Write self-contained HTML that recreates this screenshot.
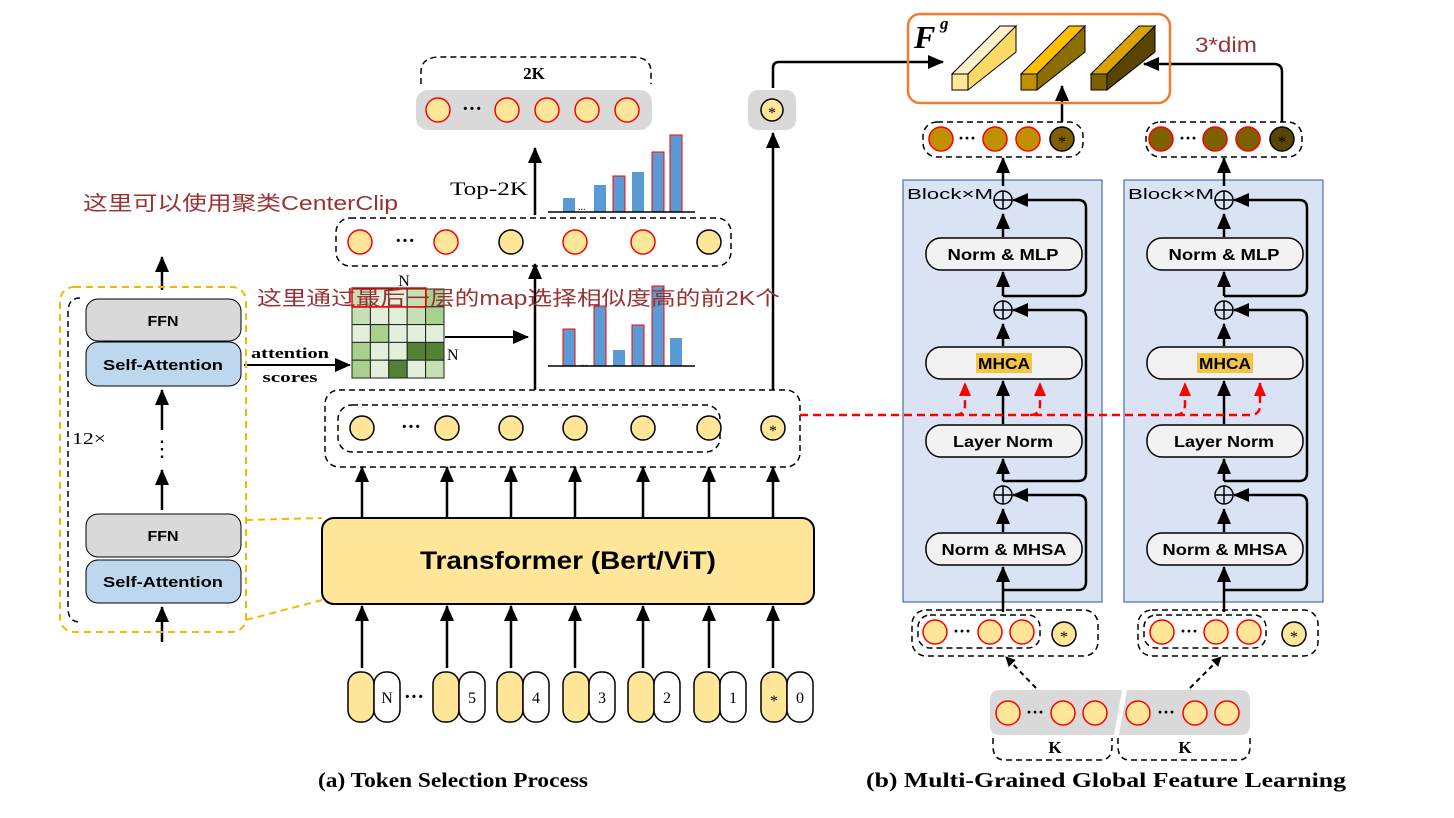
<!DOCTYPE html>
<html><head><meta charset="utf-8"><style>
body{margin:0;background:#fff;}
svg{display:block;}
.s{font-family:"Liberation Sans","DejaVu Sans",sans-serif;}
.r{font-family:"Liberation Serif",serif;}
.cn{font-family:"Liberation Sans","Noto Sans CJK SC",sans-serif;fill:#993333;font-size:20px;}
</style></head><body>
<svg width="1454" height="818" viewBox="0 0 1454 818" xmlns="http://www.w3.org/2000/svg">
<defs>
<marker id="a" markerWidth="10" markerHeight="10" refX="9" refY="5" orient="auto" markerUnits="userSpaceOnUse" viewBox="0 0 10 10"><path d="M0,0 L10,5 L0,10z" fill="#000"/></marker>
<marker id="ab" markerWidth="16" markerHeight="16" refX="15" refY="8" orient="auto" markerUnits="userSpaceOnUse" viewBox="0 0 16 16"><path d="M0,1 L16,8 L0,15z" fill="#000"/></marker>
<marker id="ar" markerWidth="14" markerHeight="14" refX="13" refY="7" orient="auto" markerUnits="userSpaceOnUse" viewBox="0 0 14 14"><path d="M0,1 L14,7 L0,13z" fill="#f00"/></marker>
</defs>
<g stroke="#000" stroke-width="2.5" fill="none" marker-end="url(#ab)">
<path d="M162 290 V257"/><path d="M162 430 V390"/><path d="M162 510 V470"/><path d="M162 642 V607"/>
<path d="M244 365 H350" stroke-width="2"/>
<path d="M445 337 H528" stroke-width="2"/>
<path d="M535 390 V264"/><path d="M535 215 V148"/>
<path d="M773 390 V133"/>
<path d="M773 88 V68 Q773 62 779 62 H943"/>
</g>
<rect x="60" y="287" width="186" height="345" rx="14" fill="none" stroke="#f5b800" stroke-width="2" stroke-dasharray="7,5"/>
<path d="M80 298 Q68 298 68 312 V608 Q68 622 80 622" fill="none" stroke="#000" stroke-width="1.5" stroke-dasharray="6,4"/>
<path d="M246 520 L322 518 M246 620 L322 600" stroke="#f5b800" stroke-width="2" stroke-dasharray="7,5"/>
<g class="s" font-weight="bold" font-size="15" text-anchor="middle">
<rect x="86" y="299" width="155" height="42" rx="12" fill="#d9d9d9" stroke="#000"/><text x="163" y="326" textLength="31" lengthAdjust="spacingAndGlyphs">FFN</text>
<rect x="86" y="342" width="155" height="44" rx="12" fill="#bdd7ee" stroke="#000"/><text x="163" y="370" textLength="120" lengthAdjust="spacingAndGlyphs">Self-Attention</text>
<rect x="86" y="514" width="155" height="43" rx="12" fill="#d9d9d9" stroke="#000"/><text x="163" y="541" textLength="31" lengthAdjust="spacingAndGlyphs">FFN</text>
<rect x="86" y="560" width="155" height="43" rx="12" fill="#bdd7ee" stroke="#000"/><text x="163" y="587" textLength="120" lengthAdjust="spacingAndGlyphs">Self-Attention</text>
</g>
<text x="162" y="456" font-size="22" text-anchor="middle" class="r">⋮</text>
<text x="72" y="444" font-size="17" class="r" textLength="34" lengthAdjust="spacingAndGlyphs">12×</text>
<text x="290" y="358" font-size="15" font-weight="bold" class="r" text-anchor="middle" textLength="78" lengthAdjust="spacingAndGlyphs">attention</text>
<text x="290" y="382" font-size="15" font-weight="bold" class="r" text-anchor="middle" textLength="55" lengthAdjust="spacingAndGlyphs">scores</text>
<g stroke="#222" stroke-width="1">
<rect x="352" y="289" width="18.4" height="17.8" fill="#c5e0b4"/><rect x="370.4" y="289" width="18.4" height="17.8" fill="#e2efda"/><rect x="388.8" y="289" width="18.4" height="17.8" fill="#e2efda"/><rect x="407.2" y="289" width="18.4" height="17.8" fill="#c5e0b4"/><rect x="425.6" y="289" width="18.4" height="17.8" fill="#a9d18e"/>
<rect x="352" y="306.8" width="18.4" height="17.8" fill="#c5e0b4"/><rect x="370.4" y="306.8" width="18.4" height="17.8" fill="#e2efda"/><rect x="388.8" y="306.8" width="18.4" height="17.8" fill="#e2efda"/><rect x="407.2" y="306.8" width="18.4" height="17.8" fill="#c5e0b4"/><rect x="425.6" y="306.8" width="18.4" height="17.8" fill="#a9d18e"/>
<rect x="352" y="324.6" width="18.4" height="17.8" fill="#e2efda"/><rect x="370.4" y="324.6" width="18.4" height="17.8" fill="#a9d18e"/><rect x="388.8" y="324.6" width="18.4" height="17.8" fill="#e2efda"/><rect x="407.2" y="324.6" width="18.4" height="17.8" fill="#e2efda"/><rect x="425.6" y="324.6" width="18.4" height="17.8" fill="#e2efda"/>
<rect x="352" y="342.4" width="18.4" height="17.8" fill="#a9d18e"/><rect x="370.4" y="342.4" width="18.4" height="17.8" fill="#e2efda"/><rect x="388.8" y="342.4" width="18.4" height="17.8" fill="#e2efda"/><rect x="407.2" y="342.4" width="18.4" height="17.8" fill="#548235"/><rect x="425.6" y="342.4" width="18.4" height="17.8" fill="#548235"/>
<rect x="352" y="360.2" width="18.4" height="17.8" fill="#a9d18e"/><rect x="370.4" y="360.2" width="18.4" height="17.8" fill="#e2efda"/><rect x="388.8" y="360.2" width="18.4" height="17.8" fill="#548235"/><rect x="407.2" y="360.2" width="18.4" height="17.8" fill="#e2efda"/><rect x="425.6" y="360.2" width="18.4" height="17.8" fill="#c5e0b4"/>
</g>
<text x="404" y="286" font-size="16" class="r" text-anchor="middle">N</text>
<text x="447" y="360" font-size="16" class="r">N</text>
<g fill="#5b9bd5">
<rect x="563" y="329" width="12" height="37" stroke="#f00"/><rect x="594" y="306" width="12" height="60" stroke="#f00"/><rect x="613" y="350" width="12" height="16"/><rect x="632" y="325" width="12" height="41" stroke="#f00"/><rect x="652" y="286" width="12" height="80" stroke="#f00"/><rect x="670" y="338" width="12" height="28"/>
<rect x="563" y="198" width="12" height="14"/><rect x="594" y="185" width="12" height="27"/><rect x="613" y="176" width="12" height="36" stroke="#f00"/><rect x="632" y="172" width="12" height="40"/><rect x="652" y="152" width="12" height="60" stroke="#f00"/><rect x="670" y="135" width="12" height="77" stroke="#f00"/>
</g>
<path d="M548 366 H695 M548 212 H695" stroke="#000" stroke-width="1.5"/>
<text x="580" y="366" font-size="10">...</text><text x="578" y="210" font-size="10">...</text>
<text x="450" y="195" font-size="19" class="r" textLength="78" lengthAdjust="spacingAndGlyphs">Top-2K</text>
<rect x="336" y="218" width="395" height="48" rx="14" fill="none" stroke="#000" stroke-width="1.5" stroke-dasharray="6,4"/>
<g fill="#ffe699" stroke-width="1.5">
<circle cx="360" cy="242" r="12" stroke="#f00"/><circle cx="446" cy="242" r="12" stroke="#f00"/><circle cx="511" cy="242" r="12" stroke="#000"/><circle cx="575" cy="242" r="12" stroke="#f00"/><circle cx="643" cy="242" r="12" stroke="#f00"/><circle cx="709" cy="242" r="12" stroke="#000"/>
</g>
<text x="405" y="247" font-size="20" font-weight="bold" text-anchor="middle">···</text>
<path d="M421 84 V72 Q421 57 440 57 H632 Q651 57 651 72 V84" fill="none" stroke="#000" stroke-width="1.5" stroke-dasharray="6,4"/>
<text x="534" y="79" font-size="17" font-weight="bold" class="r" text-anchor="middle">2K</text>
<rect x="416" y="90" width="236" height="40" rx="12" fill="#d9d9d9"/>
<g fill="#ffe699" stroke="#f00" stroke-width="1.5">
<circle cx="438" cy="110" r="12"/><circle cx="507" cy="110" r="12"/><circle cx="547" cy="110" r="12"/><circle cx="587" cy="110" r="12"/><circle cx="627" cy="110" r="12"/></g>
<text x="472" y="115" font-size="20" font-weight="bold" text-anchor="middle">···</text>
<rect x="748" y="90" width="48" height="40" rx="10" fill="#d9d9d9"/>
<circle cx="772" cy="110" r="11" fill="#ffe699" stroke="#000" stroke-width="1.5"/><text x="772" y="118" font-size="16" text-anchor="middle">*</text>
<rect x="325" y="390" width="475" height="77" rx="14" fill="none" stroke="#000" stroke-width="1.5" stroke-dasharray="6,4"/>
<rect x="338" y="405" width="382" height="47" rx="14" fill="none" stroke="#000" stroke-width="1.5" stroke-dasharray="6,4"/>
<g fill="#ffe699" stroke="#000" stroke-width="1.5">
<circle cx="362" cy="428" r="12"/><circle cx="447" cy="428" r="12"/><circle cx="511" cy="428" r="12"/><circle cx="575" cy="428" r="12"/><circle cx="643" cy="428" r="12"/><circle cx="709" cy="428" r="12"/><circle cx="773" cy="428" r="12"/></g>
<text x="411" y="433" font-size="20" font-weight="bold" text-anchor="middle">···</text>
<text x="773" y="436" font-size="16" text-anchor="middle">*</text>
<g stroke="#000" stroke-width="2.5" marker-end="url(#ab)">
<path d="M362 517 V467"/><path d="M447 517 V467"/><path d="M511 517 V467"/><path d="M575 517 V467"/><path d="M643 517 V467"/><path d="M709 517 V467"/><path d="M773 517 V467"/>
<path d="M362 668 V606"/><path d="M447 668 V606"/><path d="M511 668 V606"/><path d="M575 668 V606"/><path d="M643 668 V606"/><path d="M709 668 V606"/><path d="M773 668 V606"/>
</g>
<rect x="322" y="518" width="492" height="86" rx="12" fill="#ffe699" stroke="#000" stroke-width="2"/>
<text x="568" y="569" class="s" font-size="25" font-weight="bold" text-anchor="middle" textLength="296" lengthAdjust="spacingAndGlyphs">Transformer (Bert/ViT)</text>
<g stroke="#000" stroke-width="1.5">
<rect x="348" y="672" width="26" height="50" rx="12" fill="#ffe699"/><rect x="374" y="672" width="26" height="50" rx="12" fill="#fff"/>
<rect x="433" y="672" width="26" height="50" rx="12" fill="#ffe699"/><rect x="459" y="672" width="26" height="50" rx="12" fill="#fff"/>
<rect x="497" y="672" width="26" height="50" rx="12" fill="#ffe699"/><rect x="523" y="672" width="26" height="50" rx="12" fill="#fff"/>
<rect x="563" y="672" width="26" height="50" rx="12" fill="#ffe699"/><rect x="589" y="672" width="26" height="50" rx="12" fill="#fff"/>
<rect x="628" y="672" width="26" height="50" rx="12" fill="#ffe699"/><rect x="654" y="672" width="26" height="50" rx="12" fill="#fff"/>
<rect x="694" y="672" width="26" height="50" rx="12" fill="#ffe699"/><rect x="720" y="672" width="26" height="50" rx="12" fill="#fff"/>
<rect x="761" y="672" width="26" height="50" rx="12" fill="#ffe699"/><rect x="787" y="672" width="26" height="50" rx="12" fill="#fff"/>
</g>
<g class="r" font-size="16" text-anchor="middle">
<text x="387" y="703">N</text><text x="472" y="703">5</text><text x="536" y="703">4</text><text x="602" y="703">3</text><text x="667" y="703">2</text><text x="733" y="703">1</text><text x="800" y="703">0</text><text x="774" y="706">*</text></g>
<text x="414" y="703" font-size="20" font-weight="bold" text-anchor="middle">···</text>
<text x="453" y="787" class="r" font-size="21" font-weight="bold" text-anchor="middle" textLength="270" lengthAdjust="spacingAndGlyphs">(a) Token Selection Process</text>
<text x="1106" y="787" class="r" font-size="21" font-weight="bold" text-anchor="middle" textLength="480" lengthAdjust="spacingAndGlyphs">(b) Multi-Grained Global Feature Learning</text>
<text x="83" y="210" class="cn" textLength="315" lengthAdjust="spacingAndGlyphs">这里可以使用聚类CenterClip</text>
<rect x="352" y="288" width="74" height="19" fill="none" stroke="#f00" stroke-width="1.5"/>
<text x="257" y="305" class="cn" textLength="523" lengthAdjust="spacingAndGlyphs">这里通过最后一层的map选择相似度高的前2K个</text>

<g id="blk">
<rect x="903" y="180" width="199" height="422" fill="#dae3f3" stroke="#2f5597" stroke-width="1"/>
<text x="907" y="199" class="s" font-size="15" textLength="86" lengthAdjust="spacingAndGlyphs">Block×M</text>
<g stroke="#000" stroke-width="2.5" fill="none" marker-end="url(#ab)">
<path d="M1003 612 V567"/><path d="M1003 532 V509"/><path d="M1003 481 V459"/><path d="M1003 424 V381"/><path d="M1003 346 V324"/><path d="M1003 296 V272"/><path d="M1003 237 V214"/><path d="M1003 186 V158"/>
<path d="M1003 590 H1078 Q1086 590 1086 582 V503 Q1086 495 1078 495 H1013"/>
<path d="M1003 481 H1078 Q1086 481 1086 473 V318 Q1086 310 1078 310 H1013"/>
<path d="M1003 296 H1078 Q1086 296 1086 288 V208 Q1086 200 1078 200 H1013"/>
</g>
<g stroke="#000" stroke-width="1.5" fill="#dae3f3">
<circle cx="1003" cy="200" r="9"/><circle cx="1003" cy="310" r="9"/><circle cx="1003" cy="495" r="9"/></g>
<path d="M994 200H1012M1003 191V209M994 310H1012M1003 301V319M994 495H1012M1003 486V504" stroke="#000" stroke-width="1.5"/>
<g class="s" font-size="16" font-weight="bold" text-anchor="middle">
<rect x="926" y="238" width="156" height="32" rx="15" fill="#f2f2f2" stroke="#000" stroke-width="1.5"/><text x="1003" y="260" textLength="111" lengthAdjust="spacingAndGlyphs">Norm &amp; MLP</text>
<rect x="926" y="347" width="156" height="32" rx="15" fill="#f2f2f2" stroke="#000" stroke-width="1.5"/><rect x="976" y="353" width="56" height="20" fill="#f4c542"/><text x="1004" y="369" textLength="52" lengthAdjust="spacingAndGlyphs">MHCA</text>
<rect x="926" y="425" width="156" height="32" rx="15" fill="#f2f2f2" stroke="#000" stroke-width="1.5"/><text x="1003" y="447" textLength="100" lengthAdjust="spacingAndGlyphs">Layer Norm</text>
<rect x="926" y="533" width="156" height="32" rx="15" fill="#f2f2f2" stroke="#000" stroke-width="1.5"/><text x="1004" y="555" textLength="125" lengthAdjust="spacingAndGlyphs">Norm &amp; MHSA</text>
</g>
</g>
<use href="#blk" x="221"/>
<g stroke="#f00" stroke-width="2.5" fill="none" stroke-dasharray="8,5">
<path d="M800 415 H1250 Q1260 415 1260 405 V383" marker-end="url(#ar)"/>
<path d="M955 415 Q965 415 965 405 V383" marker-end="url(#ar)"/>
<path d="M1030 415 Q1040 415 1040 405 V383" marker-end="url(#ar)"/>
<path d="M1175 415 Q1185 415 1185 405 V383" marker-end="url(#ar)"/>
</g>
<rect x="923" y="122" width="160" height="35" rx="14" fill="none" stroke="#000" stroke-width="1.5" stroke-dasharray="6,4"/>
<rect x="1146" y="122" width="156" height="35" rx="14" fill="none" stroke="#000" stroke-width="1.5" stroke-dasharray="6,4"/>
<g stroke="#f00" stroke-width="1.5"><circle cx="941" cy="139" r="12" fill="#bf9000"/><circle cx="995" cy="139" r="12" fill="#bf9000"/><circle cx="1028" cy="139" r="12" fill="#bf9000"/>
<circle cx="1161" cy="139" r="12" fill="#7f6000"/><circle cx="1215" cy="139" r="12" fill="#7f6000"/><circle cx="1248" cy="139" r="12" fill="#7f6000"/></g>
<circle cx="1062" cy="139" r="12" fill="#7f6000" stroke="#000" stroke-width="1.5"/><circle cx="1282" cy="139" r="12" fill="#5a4500" stroke="#000" stroke-width="1.5"/>
<text x="1062" y="147" font-size="16" text-anchor="middle">*</text><text x="1282" y="147" font-size="16" text-anchor="middle">*</text>
<text x="967" y="144" font-size="18" font-weight="bold" text-anchor="middle">···</text><text x="1188" y="144" font-size="18" font-weight="bold" text-anchor="middle">···</text>
<g stroke="#000" stroke-width="2.5" fill="none" marker-end="url(#ab)">
<path d="M1062 122 V86"/><path d="M1282 122 V72 Q1282 64 1274 64 H1144"/>
</g>
<rect x="908" y="14" width="262" height="89" rx="12" fill="none" stroke="#ed7d31" stroke-width="2.5"/>
<text x="914" y="48" class="r" font-size="32" font-weight="bold" font-style="italic">F</text>
<text x="940" y="29" class="r" font-size="17" font-weight="bold" font-style="italic">g</text>
<g stroke="#000" stroke-width="1">
<path d="M952 74 L1000 26 H1016 L968 74z" fill="#fff2cc"/><path d="M968 74 L1016 26 V52 L968 90z" fill="#ffd966"/><rect x="952" y="74" width="16" height="16" fill="#ffe699"/>
<path d="M1021 74 L1069 26 H1085 L1037 74z" fill="#ffc000"/><path d="M1037 74 L1085 26 V52 L1037 90z" fill="#8c6d00"/><rect x="1021" y="74" width="16" height="16" fill="#bf9000"/>
<path d="M1091 74 L1139 26 H1155 L1107 74z" fill="#d9a300"/><path d="M1107 74 L1155 26 V52 L1107 90z" fill="#5a4500"/><rect x="1091" y="74" width="16" height="16" fill="#7f6000"/>
</g>
<text x="1195" y="52" class="s" font-size="21" fill="#993333" textLength="62" lengthAdjust="spacingAndGlyphs">3*dim</text>
<rect x="912" y="610" width="186" height="46" rx="14" fill="none" stroke="#000" stroke-width="1.5" stroke-dasharray="6,4"/>
<rect x="918" y="615" width="122" height="33" rx="12" fill="none" stroke="#000" stroke-width="1.5" stroke-dasharray="6,4"/>
<rect x="1138" y="610" width="180" height="46" rx="14" fill="none" stroke="#000" stroke-width="1.5" stroke-dasharray="6,4"/>
<rect x="1144" y="615" width="122" height="33" rx="12" fill="none" stroke="#000" stroke-width="1.5" stroke-dasharray="6,4"/>
<g fill="#ffe699" stroke="#f00" stroke-width="1.5">
<circle cx="935" cy="632" r="12"/><circle cx="990" cy="632" r="12"/><circle cx="1022" cy="632" r="12"/>
<circle cx="1162" cy="632" r="12"/><circle cx="1216" cy="632" r="12"/><circle cx="1249" cy="632" r="12"/></g>
<circle cx="1064" cy="634" r="12" fill="#ffe699" stroke="#000" stroke-width="1.5"/><circle cx="1294" cy="634" r="12" fill="#ffe699" stroke="#000" stroke-width="1.5"/>
<text x="1064" y="642" font-size="16" text-anchor="middle">*</text><text x="1294" y="642" font-size="16" text-anchor="middle">*</text>
<text x="962" y="637" font-size="18" font-weight="bold" text-anchor="middle">···</text><text x="1189" y="637" font-size="18" font-weight="bold" text-anchor="middle">···</text>
<path d="M1000 690 H1122 L1114 735 H1000 Q990 735 990 725 V700 Q990 690 1000 690z M1127 690 H1240 Q1250 690 1250 700 V725 Q1250 735 1240 735 H1119z" fill="#d9d9d9"/>
<g fill="#ffe699" stroke="#f00" stroke-width="1.5">
<circle cx="1008" cy="713" r="12"/><circle cx="1063" cy="713" r="12"/><circle cx="1095" cy="713" r="12"/>
<circle cx="1138" cy="713" r="12"/><circle cx="1195" cy="713" r="12"/><circle cx="1227" cy="713" r="12"/></g>
<text x="1035" y="718" font-size="18" font-weight="bold" text-anchor="middle">···</text><text x="1166" y="718" font-size="18" font-weight="bold" text-anchor="middle">···</text>
<g stroke="#000" stroke-width="2" stroke-dasharray="5,4" fill="none" marker-end="url(#a)">
<path d="M1036 688 L1006 657"/><path d="M1190 688 L1221 657"/></g>
<path d="M993 738 V746 Q993 760 1005 760 H1100 Q1112 760 1112 746 V738 M1118 738 V746 Q1118 760 1130 760 H1238 Q1250 760 1250 746 V738" fill="none" stroke="#000" stroke-width="1.5" stroke-dasharray="6,4"/>
<text x="1055" y="753" class="r" font-size="17" font-weight="bold" text-anchor="middle">K</text>
<text x="1185" y="753" class="r" font-size="17" font-weight="bold" text-anchor="middle">K</text>
</svg>
</body></html>
